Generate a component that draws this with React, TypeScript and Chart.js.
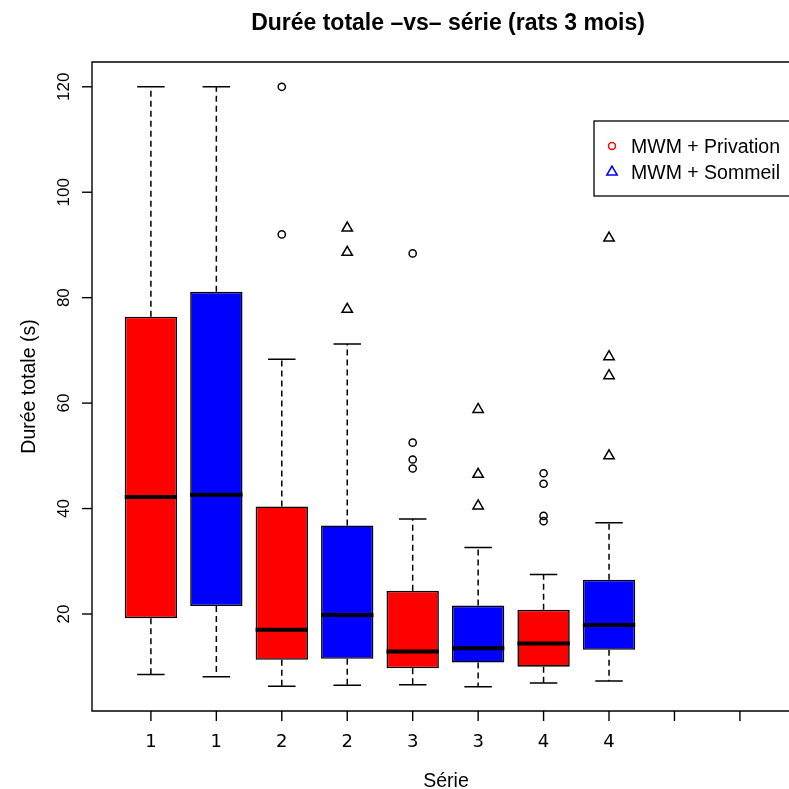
import React, { useEffect, useRef } from "react";
import { Chart, registerables } from "chart.js";

Chart.register(...registerables);

// ---- Data ----
const boxPositions = [1, 2, 3, 4, 5, 6, 7, 8];
const tickPositions = [1, 2, 3, 4, 5, 6, 7, 8, 9, 10];
const tickLabels = ["1", "1", "2", "2", "3", "3", "4", "4", "", ""];
const yTicks = [20, 40, 60, 80, 100, 120];
const groupNames = ["MWM + Privation", "MWM + Sommeil"];
const boxGroup = [0, 1, 0, 1, 0, 1, 0, 1];

const lowerWhisker = [8.5, 8.1, 6.3, 6.5, 6.6, 6.2, 6.9, 7.3];
const q1 = [19.2, 21.5, 11.3, 11.5, 9.7, 10.8, 10.0, 13.2];
const median = [42.2, 42.6, 17.0, 19.8, 12.9, 13.5, 14.4, 17.9];
const q3 = [76.4, 81.1, 40.4, 36.8, 24.4, 21.6, 20.8, 26.5];
const upperWhisker = [120, 120, 68.3, 71.2, 38.0, 32.6, 27.5, 37.3];

const privationOutlierX = [3, 3, 5, 5, 5, 5, 7, 7, 7, 7];
const privationOutlierY = [120, 92.0, 88.4, 52.5, 49.3, 47.6, 46.7, 44.7, 38.6, 37.6];
const sommeilOutlierX = [4, 4, 4, 6, 6, 6, 8, 8, 8, 8];
const sommeilOutlierY = [93.2, 88.6, 77.8, 58.8, 46.5, 40.5, 91.3, 68.8, 65.2, 50.0];

const titleText = "Durée totale –vs– série (rats 3 mois)";
const xTitle = "Série";
const yTitle = "Durée totale (s)";

const groupColors = ["#FF0000", "#0000FF"];
const FONT = "'Liberation Sans', Arial, Helvetica, sans-serif";

const boxplotPlugin = {
  id: "boxplotExtras",
  afterDatasetsDraw(chart: any) {
    const ctx = chart.ctx as CanvasRenderingContext2D;
    const xs = chart.scales.x;
    const ys = chart.scales.y;
    const area = chart.chartArea;
    ctx.save();
    ctx.strokeStyle = "#000";
    ctx.fillStyle = "#000";

    // whiskers, caps, medians
    boxPositions.forEach((p, i) => {
      const cx = xs.getPixelForValue(p);
      const capL = xs.getPixelForValue(p - 0.21);
      const capR = xs.getPixelForValue(p + 0.21);
      const boxL = xs.getPixelForValue(p - 0.4);
      const boxR = xs.getPixelForValue(p + 0.4);
      const yLo = ys.getPixelForValue(lowerWhisker[i]);
      const yQ1 = ys.getPixelForValue(q1[i]);
      const yQ3 = ys.getPixelForValue(q3[i]);
      const yHi = ys.getPixelForValue(upperWhisker[i]);
      const yMed = ys.getPixelForValue(median[i]);

      ctx.lineWidth = 1.5;
      ctx.setLineDash([6, 4]);
      ctx.beginPath();
      ctx.moveTo(cx, yQ3);
      ctx.lineTo(cx, yHi);
      ctx.moveTo(cx, yQ1);
      ctx.lineTo(cx, yLo);
      ctx.stroke();
      ctx.setLineDash([]);
      ctx.beginPath();
      ctx.moveTo(capL, yHi);
      ctx.lineTo(capR, yHi);
      ctx.moveTo(capL, yLo);
      ctx.lineTo(capR, yLo);
      ctx.stroke();

      ctx.lineWidth = 4;
      ctx.lineCap = "butt";
      ctx.beginPath();
      ctx.moveTo(boxL, yMed);
      ctx.lineTo(boxR, yMed);
      ctx.stroke();
    });

    // frame (right side lies beyond the canvas)
    ctx.lineWidth = 1.4;
    ctx.beginPath();
    ctx.moveTo(area.right + 20, area.top);
    ctx.lineTo(area.left, area.top);
    ctx.lineTo(area.left, area.bottom);
    ctx.lineTo(area.right + 20, area.bottom);
    ctx.stroke();

    // y ticks
    ctx.font = `17px ${FONT}`;
    yTicks.forEach((v) => {
      const y = ys.getPixelForValue(v);
      ctx.beginPath();
      ctx.moveTo(area.left, y);
      ctx.lineTo(area.left - 10, y);
      ctx.stroke();
      ctx.save();
      ctx.translate(area.left - 23, y);
      ctx.rotate(-Math.PI / 2);
      ctx.textAlign = "center";
      ctx.textBaseline = "alphabetic";
      ctx.fillText(String(v), 0, 0);
      ctx.restore();
    });

    // x ticks
    ctx.font = `18px 'DejaVu Sans', ${FONT}`;
    tickPositions.forEach((p, i) => {
      const x = xs.getPixelForValue(p);
      ctx.beginPath();
      ctx.moveTo(x, area.bottom);
      ctx.lineTo(x, area.bottom + 10);
      ctx.stroke();
      ctx.textAlign = "center";
      ctx.textBaseline = "alphabetic";
      if (tickLabels[i]) ctx.fillText(tickLabels[i], x, 747);
    });

    // axis titles
    ctx.font = `19.5px ${FONT}`;
    ctx.textAlign = "center";
    ctx.fillText(xTitle, 446, 786.5);
    ctx.save();
    ctx.translate(35, (area.top + area.bottom) / 2);
    ctx.rotate(-Math.PI / 2);
    ctx.fillText(yTitle, 0, 0);
    ctx.restore();

    // title
    ctx.font = `bold 23px ${FONT}`;
    ctx.fillText(titleText, 448, 30);

    // legend
    ctx.lineWidth = 1.3;
    ctx.strokeStyle = "#000";
    ctx.strokeRect(594, 121, 220, 75);
    ctx.font = `19.5px ${FONT}`;
    ctx.textAlign = "left";
    ctx.fillStyle = "#000";
    ctx.fillText(groupNames[0], 631, 152.7);
    ctx.fillText(groupNames[1], 631, 178.7);
    ctx.lineWidth = 1.5;
    ctx.strokeStyle = groupColors[0];
    ctx.beginPath();
    ctx.arc(612, 146, 3.5, 0, Math.PI * 2);
    ctx.stroke();
    ctx.strokeStyle = groupColors[1];
    const r = 6;
    ctx.beginPath();
    ctx.moveTo(612, 172 - r);
    ctx.lineTo(612 + r * Math.sin((2 * Math.PI) / 3), 172 - r * Math.cos((2 * Math.PI) / 3));
    ctx.lineTo(612 + r * Math.sin((4 * Math.PI) / 3), 172 - r * Math.cos((4 * Math.PI) / 3));
    ctx.closePath();
    ctx.stroke();

    ctx.restore();
  },
};

export default function App() {
  const canvasRef = useRef<HTMLCanvasElement | null>(null);

  useEffect(() => {
    if (!canvasRef.current) return;
    const chart = new Chart(canvasRef.current, {
      type: "bar",
      data: {
        datasets: [
          {
            type: "bar",
            label: "boxes",
            data: boxPositions.map((p, i) => ({ x: p, y: [q1[i], q3[i]] })) as any,
            backgroundColor: boxGroup.map((g) => groupColors[g]),
            borderColor: "#000",
            borderWidth: 1.6,
            borderSkipped: false,
            barPercentage: 0.8,
            categoryPercentage: 1.0,
            order: 2,
          } as any,
          {
            type: "scatter",
            label: groupNames[0],
            data: privationOutlierX.map((x, i) => ({ x, y: privationOutlierY[i] })),
            pointStyle: "circle",
            pointRadius: 3.6,
            pointBorderWidth: 1.5,
            pointBorderColor: "#000",
            pointBackgroundColor: "rgba(0,0,0,0)",
            order: 1,
          } as any,
          {
            type: "scatter",
            label: groupNames[1],
            data: sommeilOutlierX.map((x, i) => ({ x, y: sommeilOutlierY[i] })),
            pointStyle: "triangle",
            pointRadius: 6,
            pointBorderWidth: 1.5,
            pointBorderColor: "#000",
            pointBackgroundColor: "rgba(0,0,0,0)",
            order: 1,
          } as any,
        ],
      },
      options: {
        responsive: false,
        animation: false,
        devicePixelRatio: 1,
        layout: { autoPadding: false, padding: { left: 92, top: 62, right: 0, bottom: 78 } },
        plugins: {
          legend: { display: false },
          title: { display: false },
          tooltip: { enabled: false },
        },
        scales: {
          x: { type: "linear", min: 0.1, max: 10.75, offset: false, display: false },
          y: { type: "linear", min: 1.6, max: 124.7, display: false },
        },
      } as any,
      plugins: [boxplotPlugin],
    });
    return () => chart.destroy();
  }, []);

  return (
    <div style={{ position: "absolute", left: 0, top: 0, width: 789, height: 789, background: "#fff" }}>
      <canvas ref={canvasRef} width={789} height={789} style={{ display: "block" }} />
    </div>
  );
}
